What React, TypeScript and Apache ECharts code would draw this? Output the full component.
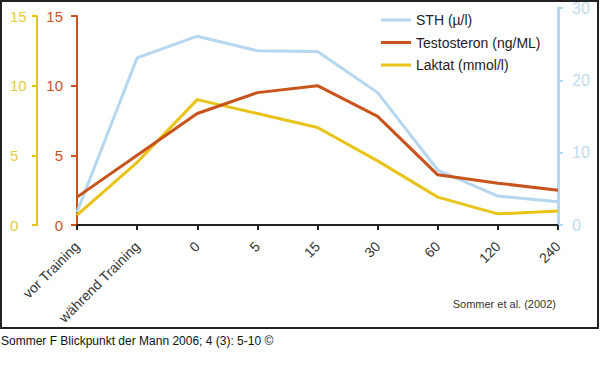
import React, { useEffect, useRef } from "react";
import * as echarts from "echarts";

const categories = ["vor Training", "während Training", "0", "5", "15", "30", "60", "120", "240"];
const sthValues = [1.8, 23.1, 26.1, 24.1, 24.0, 18.3, 7.6, 4.0, 3.2];
const testosteronValues = [2.0, 5.0, 8.0, 9.5, 10.0, 7.8, 3.6, 3.0, 2.5];
const laktatValues = [0.7, 4.5, 9.0, 8.0, 7.0, 4.6, 2.0, 0.8, 1.0];
const seriesNames = ["STH (µ/l)", "Testosteron (ng/ML)", "Laktat (mmol/l)"];
const leftAxisRange = { min: 0, max: 15, interval: 5 };
const rightAxisRange = { min: 0, max: 30, interval: 10 };
const sourceNote = "Sommer et al. (2002)";
const footerText = "Sommer F Blickpunkt der Mann 2006; 4 (3): 5-10 ©";

const BLUE = "#b5d7f0";
const ORANGE = "#c8531c";
const YELLOW = "#e9c417";
const FONT = "'Liberation Sans', Arial, Helvetica, sans-serif";

export default function App() {
  const ref = useRef<HTMLDivElement>(null);
  useEffect(() => {
    if (!ref.current) return;
    const chart = echarts.init(ref.current, undefined, { renderer: "svg" });
    const xAxisCommon = {
      type: "category",
      data: categories,
      boundaryGap: false,
    };
    chart.setOption({
      animation: false,
      backgroundColor: "#ffffff",
      textStyle: { fontFamily: FONT },
      grid: [
        { left: 77, right: 42, top: 16, bottom: 165 },
        { left: 77, right: 42, top: 8, bottom: 165 },
      ],
      legend: {
        orient: "vertical",
        left: 376,
        top: 7,
        icon: "rect",
        itemWidth: 30,
        itemHeight: 3,
        itemGap: 6.5,
        data: seriesNames,
        textStyle: { fontSize: 14, color: "#222", lineHeight: 16, fontFamily: FONT },
      },
      xAxis: [
        {
          ...xAxisCommon,
          gridIndex: 0,
          axisLine: { show: true, lineStyle: { color: "#222", width: 2 } },
          axisTick: { show: true, inside: false, length: 5, alignWithLabel: true, lineStyle: { color: "#222", width: 2 } },
          axisLabel: { rotate: 45, margin: 19, fontSize: 14, color: "#333", interval: 0 },
          splitLine: { show: false },
        },
        {
          ...xAxisCommon,
          gridIndex: 1,
          show: false,
        },
      ],
      yAxis: [
        {
          type: "value",
          gridIndex: 0,
          position: "left",
          offset: 0,
          ...leftAxisRange,
          axisLine: { show: true, lineStyle: { color: ORANGE, width: 2 } },
          axisTick: { show: true, length: 6, lineStyle: { color: ORANGE, width: 2 } },
          axisLabel: { color: ORANGE, fontSize: 15, margin: 14 },
          splitLine: { show: false },
        },
        {
          type: "value",
          gridIndex: 0,
          position: "left",
          offset: 40,
          ...leftAxisRange,
          axisLine: { show: true, lineStyle: { color: YELLOW, width: 2 } },
          axisTick: { show: true, length: 5, lineStyle: { color: YELLOW, width: 2 } },
          axisLabel: { color: "#e2cc3c", fontSize: 15, margin: 27, align: "left" },
          splitLine: { show: false },
        },
        {
          type: "value",
          gridIndex: 1,
          position: "right",
          ...rightAxisRange,
          axisLine: { show: true, lineStyle: { color: BLUE, width: 3 } },
          axisTick: { show: true, length: 5, lineStyle: { color: BLUE, width: 2 } },
          axisLabel: { color: "#c2dcf0", fontSize: 16, margin: 14 },
          splitLine: { show: false },
        },
      ],
      series: [
        {
          name: seriesNames[0],
          type: "line",
          xAxisIndex: 1,
          yAxisIndex: 2,
          data: sthValues,
          showSymbol: false,
          symbol: "none",
          lineStyle: { color: BLUE, width: 3 },
          itemStyle: { color: BLUE },
        },
        {
          name: seriesNames[2],
          type: "line",
          xAxisIndex: 0,
          yAxisIndex: 1,
          data: laktatValues,
          showSymbol: false,
          symbol: "none",
          lineStyle: { color: YELLOW, width: 3 },
          itemStyle: { color: YELLOW },
        },
        {
          name: seriesNames[1],
          type: "line",
          xAxisIndex: 0,
          yAxisIndex: 0,
          data: testosteronValues,
          showSymbol: false,
          symbol: "none",
          lineStyle: { color: ORANGE, width: 3 },
          itemStyle: { color: ORANGE },
        },
      ],
      graphic: [
        {
          type: "rect",
          shape: { x: 1, y: 1, width: 597, height: 327 },
          style: { fill: "none", stroke: "#222", lineWidth: 2 },
          silent: true,
          z: -1,
        },
        {
          type: "text",
          right: 44,
          top: 298,
          style: { text: sourceNote, fill: "#333", fontSize: 11, fontFamily: FONT },
        },
        {
          type: "text",
          left: 1,
          top: 335,
          style: { text: footerText, fill: "#111", fontSize: 12, fontFamily: FONT },
        },
      ],
    });
    return () => chart.dispose();
  }, []);
  return (
    <div style={{ position: "absolute", left: 0, top: 0, width: 600, height: 390, background: "#fff" }}>
      <div ref={ref} style={{ width: 600, height: 390 }} />
    </div>
  );
}
